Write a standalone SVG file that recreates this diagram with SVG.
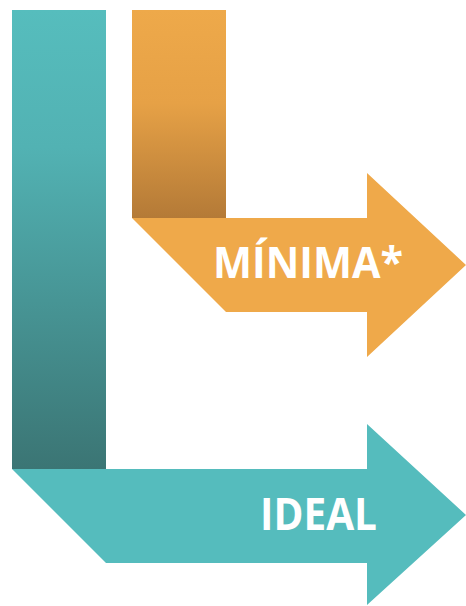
<svg xmlns="http://www.w3.org/2000/svg" width="466" height="606" viewBox="0 0 466 606">
<defs>
<linearGradient id="gTeal" x1="0" y1="10" x2="0" y2="469" gradientUnits="userSpaceOnUse">
<stop offset="0" stop-color="#56BDBD"/>
<stop offset="0.3" stop-color="#52B2B3"/>
<stop offset="1" stop-color="#3B7574"/>
</linearGradient>
<linearGradient id="gOrange" x1="0" y1="10" x2="0" y2="218" gradientUnits="userSpaceOnUse">
<stop offset="0" stop-color="#EEA94A"/>
<stop offset="0.45" stop-color="#E6A146"/>
<stop offset="1" stop-color="#B47A37"/>
</linearGradient>
<style>
.lbl{font-family:"Open Sans","Liberation Sans",sans-serif;font-weight:700;fill:#ffffff;}
</style>
</defs>
<g id="ideal">
<rect x="12" y="10" width="94" height="459" fill="url(#gTeal)"/>
<polygon points="12,469 367,469 367,424 466,515 367,605 367,563 106,563" fill="#55BCBD"/>
<text class="lbl" x="260" y="530" font-size="44" textLength="117" lengthAdjust="spacingAndGlyphs">IDEAL</text>
</g>
<g id="minima">
<rect x="132" y="10" width="94" height="208" fill="url(#gOrange)"/>
<polygon points="132,218 367,218 367,173 466,265 367,357 367,312 226,312" fill="#EFA94A"/>
<text class="lbl" x="213" y="278" font-size="43" textLength="190" lengthAdjust="spacingAndGlyphs">MÍNIMA*</text>
</g>
<g id="connectors"/>
</svg>
